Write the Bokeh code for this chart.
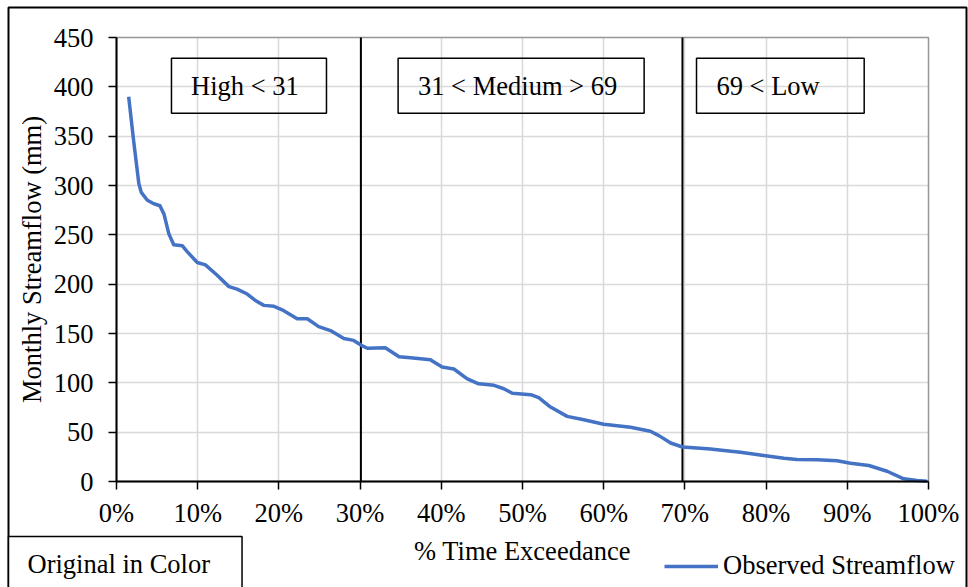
from bokeh.plotting import figure
from bokeh.models import Legend, LegendItem, Label, BoxAnnotation, FixedTicker
from bokeh.core.properties import value
from bokeh.embed import file_html
from bokeh.resources import INLINE

# ---- data ----
exceedance = [1.5, 2.1, 2.75, 3.05, 3.8, 4.6, 5.35, 5.85, 6.45, 7.05, 8.1, 8.7, 9.95,
              10.95, 12.4, 13.85, 14.85, 16.1, 17.1, 18.15, 19.4, 20.4, 22.25, 23.5,
              24.9, 26.35, 28.0, 29.2, 30.15, 30.9, 33.1, 34.8, 36.2, 37.45, 38.65,
              40.1, 41.55, 43.2, 44.6, 46.5, 47.7, 48.75, 51.0, 52.0, 53.45, 55.5,
              57.55, 60.0, 63.3, 65.75, 66.8, 68.25, 69.7, 71.9, 73.15, 74.8, 76.85,
              79.7, 82.2, 83.8, 86.3, 88.75, 90.4, 92.65, 94.9, 96.95, 98.6, 99.8]
streamflow = [390, 346, 302, 293, 285, 281.5, 279.5, 271, 251, 240, 239, 233, 222,
              219.5, 209, 197.5, 195, 190, 183.5, 178.5, 177.5, 174, 165, 165,
              157, 153, 145, 143, 138, 135, 135.5, 126.5, 125.5, 124.5, 123.5,
              116, 114, 104, 99, 97.5, 94, 89.5, 88, 85, 75.5, 66,
              62.5, 58, 55, 51, 46.5, 39, 35, 33.7, 33, 31.4, 29.7,
              26.4, 23.6, 22.3, 22.0, 21.0, 18.5, 16.2, 10.4, 2.7, 1.0, 0.3]
series_name = "Observed Streamflow"

x_ticks = [0, 10, 20, 30, 40, 50, 60, 70, 80, 90, 100]
x_tick_labels = ["0%", "10%", "20%", "30%", "40%", "50%", "60%", "70%", "80%", "90%", "100%"]
y_ticks = [0, 50, 100, 150, 200, 250, 300, 350, 400, 450]
x_min, x_max = 0, 100
y_min, y_max = 0, 450

class_bounds = [30.1, 69.7]
class_labels = ["High < 31", "31 < Medium > 69", "69 < Low"]
class_text_x = [9.19, 37.13, 73.89]
class_box_left = [6.77, 34.68, 71.43]
class_box_right = [25.86, 64.98, 92.08]
class_box_top = 429.0
class_box_bottom = 373.3
note_text = "Original in Color"

# ---- layout (pixels) ----
W, H = 968, 587
PL, PR, PT, PB = 116, 928, 37, 481   # plot-area edges on the canvas
FONT = "Liberation Serif"
FS = "26.5px"
BLUE = "#4472C4"

xu = (x_max - x_min) / (PR - PL)
yu = (y_max - y_min) / (PB - PT)
x_range = (x_min - PL * xu, x_max + (W - PR) * xu)
y_range = (y_min - (H - PB) * yu, y_max + PT * yu)


def px_to_x(px):
    return x_min + (px - PL) * xu


def px_to_y(py):
    return y_min + (PB - py) * yu


p = figure(width=W, height=H, x_range=x_range, y_range=y_range,
           output_backend="svg", toolbar_location=None, min_border=0)
p.background_fill_color = "white"
p.border_fill_color = "white"
p.outline_line_color = None

# outer chart border (open at the bottom, as in the cropped original)
bx0, bx1 = px_to_x(8), px_to_x(966)
by0, by1 = px_to_y(H + 5), px_to_y(7)
p.line([bx0, bx0, bx1, bx1], [by0, by1, by1, by0], line_color="black", line_width=2)

# grid, limited to the plot area
for g in (p.xgrid, p.ygrid):
    g.grid_line_color = "#d9d9d9"
    g.grid_line_width = 1.5
p.xgrid.ticker = FixedTicker(ticks=x_ticks)
p.ygrid.ticker = FixedTicker(ticks=y_ticks)
p.xgrid.bounds = (x_min, x_max)
p.xgrid.cross_bounds = (y_min, y_max)
p.ygrid.bounds = (y_min, y_max)
p.ygrid.cross_bounds = (x_min, x_max)

# axes drawn at the plot-area edges
p.xaxis.fixed_location = y_min
p.yaxis.fixed_location = x_min
p.xaxis.bounds = (x_min, x_max)
p.yaxis.bounds = (y_min, y_max)
p.xaxis.ticker = FixedTicker(ticks=x_ticks)
p.xaxis.major_label_overrides = {t: l for t, l in zip(x_ticks, x_tick_labels)}
p.yaxis.ticker = FixedTicker(ticks=y_ticks)
for ax in (p.xaxis, p.yaxis):
    ax.axis_line_color = "black"
    ax.axis_line_width = 2
    ax.major_tick_line_color = "black"
    ax.major_tick_line_width = 1.5
    ax.major_tick_out = 8
    ax.major_tick_in = 0
    ax.minor_tick_line_color = None
    ax.major_label_text_font = FONT
    ax.major_label_text_font_size = FS
    ax.major_label_text_color = "black"
    ax.axis_label_text_font = FONT
    ax.axis_label_text_font_size = FS
    ax.axis_label_text_font_style = "normal"
    ax.axis_label_text_color = "black"
p.xaxis.axis_label = "% Time Exceedance"
p.yaxis.axis_label = "Monthly Streamflow (mm)"
p.xaxis.major_label_standoff = 8
p.yaxis.major_label_standoff = 15
p.xaxis.axis_label_standoff = 5
p.yaxis.axis_label_standoff = 4

# class separators
p.segment(x0=class_bounds, y0=[y_min] * 2, x1=class_bounds, y1=[y_max] * 2,
          line_color="black", line_width=2)

# class boxes (unfilled) and their texts
p.quad(left=class_box_left, right=class_box_right,
       top=[class_box_top] * 3, bottom=[class_box_bottom] * 3,
       fill_color=None, line_color="black", line_width=1.5)
p.text(x=class_text_x, y=[(class_box_top + class_box_bottom) / 2] * 3, text=class_labels,
       text_font=value(FONT), text_font_size=FS, text_color="black",
       text_baseline="middle", text_align="left")

# data line
line = p.line(exceedance, streamflow, line_color=BLUE, line_width=3.5, line_join="round")

# plot-area frame
p.add_layout(BoxAnnotation(left=x_min, right=x_max, bottom=y_min, top=y_max,
                           fill_alpha=0, line_color="black", line_width=1.5))

legend = Legend(items=[LegendItem(label=series_name, renderers=[line])],
                location=(664, 6), orientation="horizontal",
                border_line_color=None, background_fill_alpha=0,
                padding=0, margin=0, spacing=0,
                glyph_width=54, glyph_height=30, label_standoff=5,
                label_text_font=FONT, label_text_font_size=FS, label_text_color="black")
p.add_layout(legend, "center")

note = Label(x=8, y=H - 536, x_units="screen", y_units="screen", text=note_text,
             text_font=FONT, text_font_size=FS, text_color="black",
             text_baseline="top", text_align="left",
             border_line_color="black", border_line_width=1.5, background_fill_color="white",
             padding={"left": 19, "right": 32, "top": 12, "bottom": 40})
p.add_layout(note)

open("out.html", "w").write(file_html(p, INLINE))
